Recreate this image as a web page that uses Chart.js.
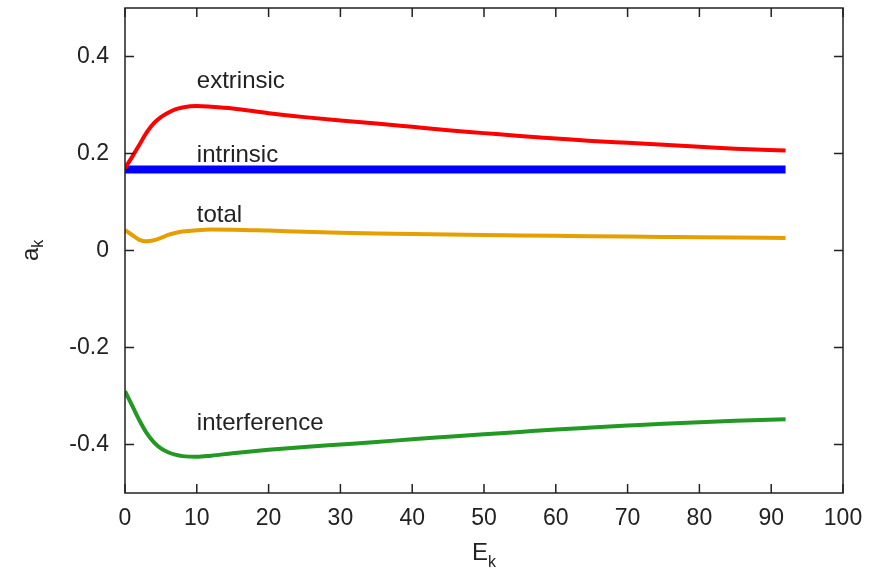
<!DOCTYPE html>
<html>
<head>
<meta charset="utf-8">
<script src="https://cdn.jsdelivr.net/npm/chart.js@4.4.0/dist/chart.umd.min.js"></script>
<style>
  html, body { margin: 0; padding: 0; background: #fff; }
  #wrap { width: 879px; height: 569px; position: relative; }
</style>
</head>
<body>
<div id="wrap"><canvas id="grafico"></canvas></div>
<script>
// valores
const energias = [0, 1, 2, 3, 4, 5, 6, 7, 8, 10, 12, 15, 20, 25, 30, 35, 40, 45, 50, 55, 60, 65, 70, 75, 80, 85, 92];
const extrinsic = [0.170, 0.193, 0.218, 0.243, 0.262, 0.275, 0.284, 0.291, 0.295, 0.298, 0.2965, 0.293, 0.283, 0.275, 0.268, 0.262, 0.255, 0.248, 0.242, 0.236, 0.231, 0.226, 0.222, 0.218, 0.214, 0.210, 0.206];
const intrinsic = [0.167, 0.167, 0.167, 0.167, 0.167, 0.167, 0.167, 0.167, 0.167, 0.167, 0.167, 0.167, 0.167, 0.167, 0.167, 0.167, 0.167, 0.167, 0.167, 0.167, 0.167, 0.167, 0.167, 0.167, 0.167, 0.167, 0.167];
const total = [0.042, 0.032, 0.022, 0.019, 0.021, 0.026, 0.032, 0.036, 0.039, 0.042, 0.0432, 0.043, 0.041, 0.0388, 0.0368, 0.0352, 0.0339, 0.0328, 0.0318, 0.031, 0.0302, 0.0294, 0.0287, 0.0280, 0.0273, 0.0267, 0.026];
const interference = [-0.290, -0.320, -0.350, -0.376, -0.395, -0.408, -0.416, -0.421, -0.424, -0.4255, -0.423, -0.418, -0.411, -0.405, -0.400, -0.395, -0.389, -0.384, -0.379, -0.374, -0.369, -0.365, -0.361, -0.357, -0.354, -0.351, -0.348];

const xTicks = [0, 10, 20, 30, 40, 50, 60, 70, 80, 90, 100];
const yTicks = [-0.4, -0.2, 0, 0.2, 0.4];

// rótulos das curvas (texto, x, y da linha de base)
const rotulos = ["extrinsic", "intrinsic", "total", "interference"];
const rotulosX = [10, 10, 10, 10];
const rotulosY = [0.336, 0.183, 0.059, -0.370];

const FONTE = "'Liberation Sans', Arial, sans-serif";
const COR_TEXTO = "#222";

function serie(valores) {
    return valores.map((v, i) => ({ x: energias[i], y: v }));
}

// moldura com marcas internas (estilo gnuplot), títulos dos eixos e rótulos
const molduraPlugin = {
    id: "moldura",
    afterDatasetsDraw(chart) {
        const { ctx, chartArea: a, scales } = chart;
        const tam = 9;
        ctx.save();
        ctx.strokeStyle = "#222";
        ctx.lineWidth = 1.5;
        ctx.strokeRect(a.left, a.top, a.right - a.left, a.bottom - a.top);
        ctx.beginPath();
        xTicks.forEach((v) => {
            const px = scales.x.getPixelForValue(v);
            ctx.moveTo(px, a.bottom);
            ctx.lineTo(px, a.bottom - tam);
            ctx.moveTo(px, a.top);
            ctx.lineTo(px, a.top + tam);
        });
        yTicks.forEach((v) => {
            const py = scales.y.getPixelForValue(v);
            ctx.moveTo(a.left, py);
            ctx.lineTo(a.left + tam, py);
            ctx.moveTo(a.right, py);
            ctx.lineTo(a.right - tam, py);
        });
        ctx.stroke();

        // rótulos das curvas
        ctx.fillStyle = COR_TEXTO;
        ctx.font = "24px " + FONTE;
        ctx.textAlign = "left";
        ctx.textBaseline = "alphabetic";
        rotulos.forEach((t, i) => {
            ctx.fillText(t, scales.x.getPixelForValue(rotulosX[i]), scales.y.getPixelForValue(rotulosY[i]));
        });

        // título do eixo x: E com índice k
        const cx = (a.left + a.right) / 2;
        ctx.font = "24px " + FONTE;
        const wE = ctx.measureText("E").width;
        ctx.fillText("E", cx - 12, 560);
        ctx.font = "16px " + FONTE;
        ctx.fillText("k", cx - 12 + wE, 567);

        // título do eixo y: a com índice k, rodado
        ctx.translate(38, 261);
        ctx.rotate(-Math.PI / 2);
        ctx.font = "24px " + FONTE;
        const wA = ctx.measureText("a").width;
        ctx.fillText("a", 0, 0);
        ctx.font = "16px " + FONTE;
        ctx.fillText("k", wA, 5);
        ctx.restore();
    },
};

const ctx = document.getElementById("grafico").getContext("2d");

new Chart(ctx, {
    type: "line",
    data: {
        datasets: [
            { label: "extrinsic", data: serie(extrinsic), borderColor: "#ff0000", borderWidth: 4 },
            { label: "total", data: serie(total), borderColor: "#e69f00", borderWidth: 4 },
            { label: "interference", data: serie(interference), borderColor: "#229922", borderWidth: 4 },
            { label: "intrinsic", data: serie(intrinsic), borderColor: "#0000ff", borderWidth: 8 },
        ],
    },
    options: {
        responsive: true,
        maintainAspectRatio: false,
        animation: false,
        layout: { padding: { top: 8, right: 36, left: 0, bottom: 0 } },
        elements: {
            point: { radius: 0 },
            line: { cubicInterpolationMode: "monotone", fill: false, borderCapStyle: "butt" },
        },
        plugins: {
            legend: { display: false },
            tooltip: { enabled: false },
        },
        scales: {
            x: {
                type: "linear",
                min: 0,
                max: 100,
                afterBuildTicks: (s) => { s.ticks = xTicks.map((v) => ({ value: v })); },
                afterFit: (s) => {
                    s.height = 76;
                    s.paddingLeft = 0;
                    s.paddingRight = 0;
                },
                grid: { display: false, drawTicks: false },
                border: { display: false },
                ticks: {
                    padding: 12,
                    color: COR_TEXTO,
                    font: { family: FONTE, size: 23 },
                    maxRotation: 0,
                    callback: (v) => String(v),
                },
            },
            y: {
                min: -0.5,
                max: 0.5,
                afterBuildTicks: (s) => { s.ticks = yTicks.map((v) => ({ value: v })); },
                afterFit: (s) => {
                    s.width = 125;
                    s.paddingTop = 0;
                    s.paddingBottom = 0;
                },
                grid: { display: false, drawTicks: false },
                border: { display: false },
                ticks: {
                    padding: 16,
                    color: COR_TEXTO,
                    font: { family: FONTE, size: 23 },
                    callback: (v) => String(v),
                },
            },
        },
    },
    plugins: [molduraPlugin],
});
</script>
</body>
</html>
